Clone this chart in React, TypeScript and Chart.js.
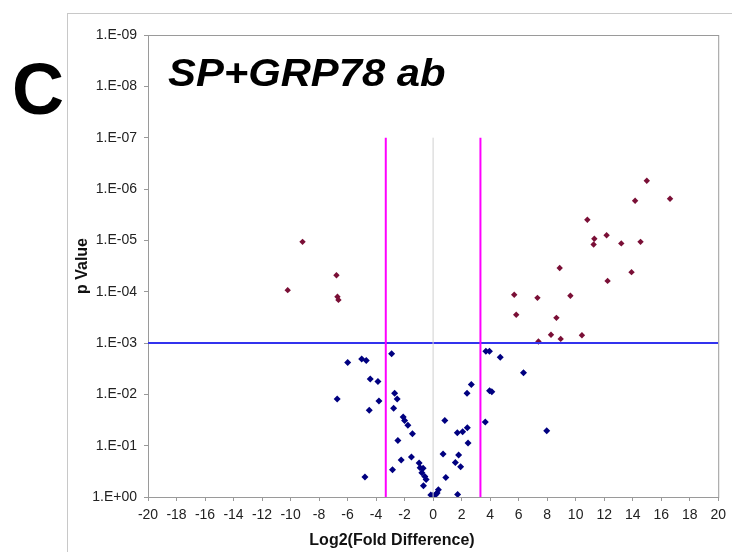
import React, { useEffect, useRef } from "react";
import { Chart, registerables } from "chart.js";

Chart.register(...registerables);

// log2 fold difference (x) and -log10(p value) (y)
const upX = [-10.2, -9.16, -6.78, -6.71, -6.64, 14.99, 14.17, 16.62, 10.82, 12.17, 11.31, 11.26, 13.2, 14.55, 8.88, 13.92, 12.24, 5.69, 7.32, 9.63, 5.83, 8.65, 8.27, 8.95, 10.44, 7.39];
const upY = [4.03, 4.97, 4.32, 3.9, 3.84, 6.16, 5.77, 5.81, 5.4, 5.1, 5.03, 4.92, 4.94, 4.97, 4.46, 4.38, 4.21, 3.94, 3.88, 3.92, 3.55, 3.49, 3.16, 3.08, 3.15, 3.03];

const nsX = [-2.91, -5.99, -5.01, -4.69, -4.41, -3.87, -6.73, -3.8, -4.48, -2.7, -2.52, -2.77, -2.1, -2.0, -1.77, -1.45, -2.47, -1.52, -2.24, -2.85, -4.78, -0.98, -0.91, -0.7, -0.79, -0.58, -0.49, -0.68, -0.16, -0.02, 0.19, 0.37, 0.28, 0.82, 0.7, 0.89, 1.7, 2.07, 2.4, 2.45, 1.79, 1.56, 1.93, 1.72, 2.38, 2.68, 3.66, 3.7, 3.95, 3.96, 4.12, 4.71, 6.34, 7.97];
const nsY = [2.79, 2.62, 2.69, 2.66, 2.3, 2.25, 1.91, 1.87, 1.69, 2.02, 1.91, 1.73, 1.56, 1.49, 1.4, 1.23, 1.1, 0.78, 0.72, 0.53, 0.39, 0.66, 0.57, 0.56, 0.47, 0.4, 0.34, 0.22, 0.04, 0.03, 0.05, 0.14, 0.08, 1.49, 0.84, 0.38, 1.25, 1.27, 1.35, 1.05, 0.82, 0.67, 0.59, 0.05, 2.02, 2.19, 1.46, 2.84, 2.84, 2.07, 2.05, 2.72, 2.42, 1.29];

const foldCut = 3.32;
const pCut = 3;
const cutLineTop = 7;
const xMin = -20;
const xMax = 20;
const yMax = 9;

const yTickLabel = (v: number) => (v === 0 ? "1.E+00" : "1.E-0" + v);

const framePlugin = {
  id: "frame",
  beforeDatasetsDraw(chart: any) {
    const { ctx, chartArea } = chart;
    ctx.save();
    ctx.strokeStyle = "#9a9a9a";
    ctx.lineWidth = 1;
    ctx.strokeRect(chartArea.left + 0.5, chartArea.top + 0.5, chartArea.right - chartArea.left, chartArea.bottom - chartArea.top);
    ctx.restore();
  },
};

export default function App() {
  const ref = useRef<HTMLCanvasElement>(null);
  useEffect(() => {
    if (!ref.current) return;
    const pts = (xs: number[], ys: number[]) => xs.map((x, i) => ({ x, y: ys[i] }));
    const chart = new Chart(ref.current, {
      type: "scatter",
      data: {
        datasets: [
          {
            type: "line",
            data: [{ x: 0, y: 0 }, { x: 0, y: cutLineTop }],
            borderColor: "#d0d0d0",
            borderWidth: 1,
            pointRadius: 0,
            showLine: true,
          } as any,
          {
            type: "line",
            data: [{ x: -foldCut, y: 0 }, { x: -foldCut, y: cutLineTop }],
            borderColor: "#ff00ff",
            borderWidth: 2,
            pointRadius: 0,
            showLine: true,
          },
          {
            type: "line",
            data: [{ x: foldCut, y: 0 }, { x: foldCut, y: cutLineTop }],
            borderColor: "#ff00ff",
            borderWidth: 2,
            pointRadius: 0,
            showLine: true,
          },
          {
            type: "line",
            data: [{ x: xMin, y: pCut }, { x: xMax, y: pCut }],
            borderColor: "#3333ee",
            borderWidth: 2,
            pointRadius: 0,
            showLine: true,
          },
          {
            data: pts(nsX, nsY),
            pointStyle: "rectRot",
            pointRadius: 3.5,
            backgroundColor: "#000080",
            borderColor: "#000080",
            borderWidth: 0,
          },
          {
            data: pts(upX, upY),
            pointStyle: "rectRot",
            pointRadius: 3.2,
            backgroundColor: "#7a0f36",
            borderColor: "#7a0f36",
            borderWidth: 0,
          },
        ],
      },
      options: {
        responsive: false,
        animation: false,
        layout: { padding: { left: 71, right: 12, top: 35, bottom: 0 } },
        plugins: { legend: { display: false }, tooltip: { enabled: false } },
        scales: {
          x: {
            type: "linear",
            min: xMin,
            max: xMax,
            ticks: {
              stepSize: 2,
              autoSkip: false,
              maxRotation: 0,
              padding: 6,
              color: "#222",
              font: { family: "Liberation Sans, Arial", size: 14 },
            },
            grid: { drawOnChartArea: false, drawTicks: true, tickLength: 4, color: "#999" },
            border: { display: true, color: "#999" },
            afterFit: (s: any) => {
              s.height = 55;
            },
          },
          y: {
            type: "linear",
            min: 0,
            max: yMax,
            ticks: {
              stepSize: 1,
              padding: 7,
              color: "#222",
              font: { family: "Liberation Sans, Arial", size: 14 },
              callback: (v: any) => yTickLabel(Number(v)),
            },
            grid: { drawOnChartArea: false, drawTicks: true, tickLength: 4, color: "#999" },
            border: { display: true, color: "#999" },
            title: {
              display: true,
              text: "p Value",
              color: "#111",
              font: { family: "Liberation Sans, Arial", size: 16, weight: "bold" },
              padding: { top: 2, bottom: 0 },
            },
            afterFit: (s: any) => {
              s.width = 77;
            },
          },
        },
      },
      plugins: [framePlugin],
    });
    return () => chart.destroy();
  }, []);

  return (
    <div style={{ position: "absolute", left: 0, top: 0, width: 732, height: 552, background: "#fff", overflow: "hidden", fontFamily: "Liberation Sans, Arial, sans-serif" }}>
      <div style={{ position: "absolute", left: 67, top: 13, width: 700, height: 600, borderLeft: "1px solid #c8c8c8", borderTop: "1px solid #c8c8c8" }} />
      <canvas ref={ref} width={732} height={552} style={{ position: "absolute", left: 0, top: 0 }} />
      <div style={{ position: "absolute", left: 12, top: 39, fontSize: 72, fontWeight: "bold", lineHeight: "100px", color: "#000" }}>C</div>
      <div style={{ position: "absolute", left: 168, top: 48, fontSize: 38, fontWeight: "bold", fontStyle: "italic", lineHeight: "50px", color: "#000", whiteSpace: "nowrap", transform: "scaleX(1.1)", transformOrigin: "left center" }}>SP+GRP78 ab</div>
      <div style={{ position: "absolute", left: 292, top: 530, width: 200, textAlign: "center", fontSize: 16, fontWeight: "bold", lineHeight: "20px", color: "#111", whiteSpace: "nowrap" }}>Log2(Fold Difference)</div>
    </div>
  );
}
